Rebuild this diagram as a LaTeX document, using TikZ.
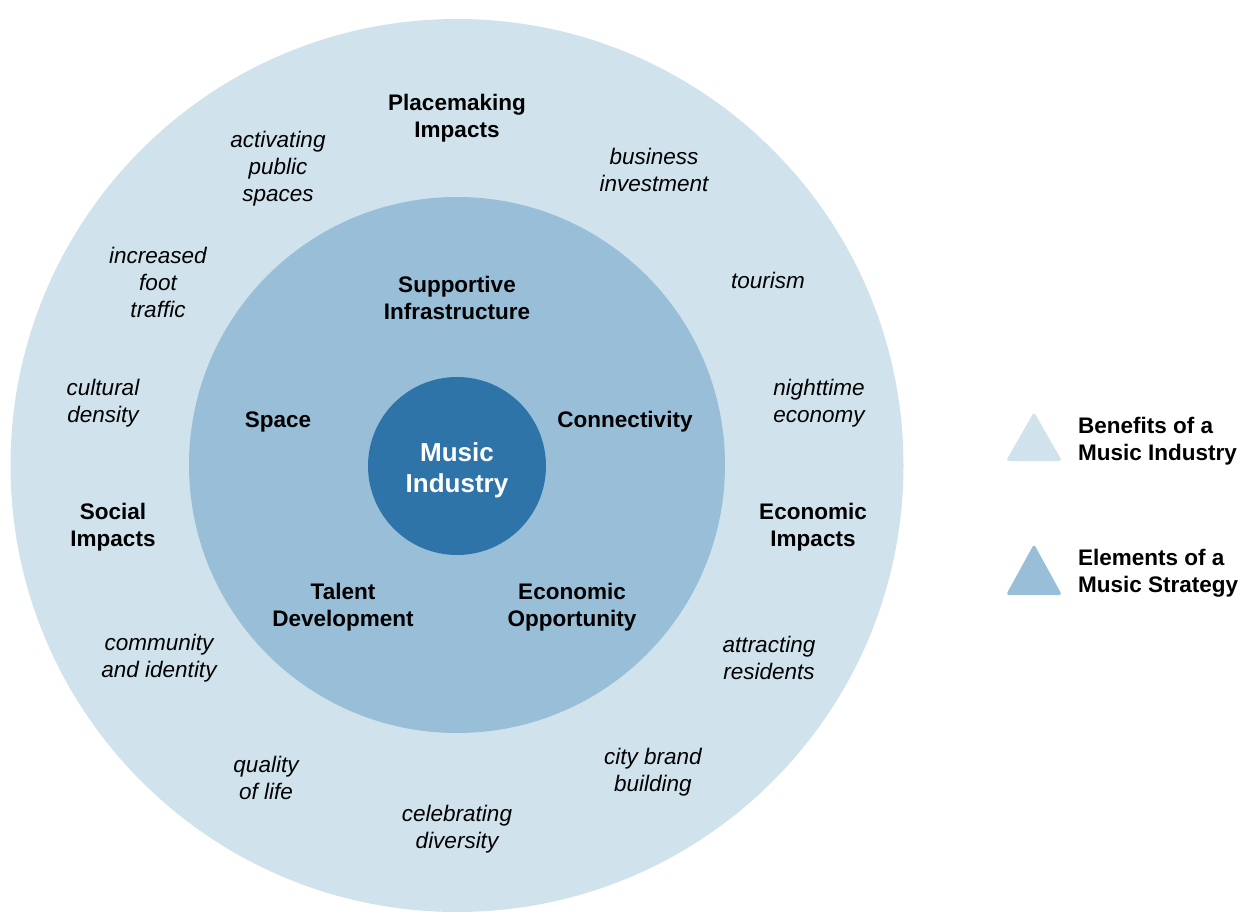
\documentclass[tikz,border=0pt]{standalone}
\usepackage{fontspec}
\setmainfont{Liberation Sans}
\definecolor{outerc}{HTML}{D0E2EC}
\definecolor{midc}{HTML}{98BFD7}
\definecolor{innerc}{HTML}{2E74A8}
\begin{document}
\begin{tikzpicture}[x=1pt,y=-1pt,
  lbl/.style={align=center,font=\fontsize{22.5}{27}\selectfont\bfseries,text=black,inner sep=0pt,yshift=-3pt},
  itl/.style={align=center,font=\fontsize{22.5}{27}\selectfont\itshape,text=black,inner sep=0pt,yshift=-3pt},
  leg/.style={align=left,anchor=west,font=\fontsize{22.5}{27}\selectfont\bfseries,inner sep=0pt,yshift=-3pt},
  tri/.style={rounded corners=3pt}]
\useasboundingbox (0,0) rectangle (1251,920);
\node[circle,fill=outerc,minimum size=893pt,inner sep=0pt] (outer) at (457,465.5) {};
\node[circle,fill=midc,minimum size=536pt,inner sep=0pt] (mid) at (457,465) {};
\node[circle,fill=innerc,minimum size=178pt,inner sep=0pt] (core) at (457,466) {};
\node[align=center,text=white,inner sep=0pt,font=\fontsize{26}{31}\selectfont\bfseries] (coretext) at (457,470) {Music\\Industry};
% middle ring
\node[lbl] (sup) at (457,295) {Supportive\\Infrastructure};
\node[lbl] (space) at (278,419) {Space};
\node[lbl] (conn) at (625,419) {Connectivity};
\node[lbl] (talent) at (343,604) {Talent\\Development};
\node[lbl] (econop) at (572,604) {Economic\\Opportunity};
% outer ring
\node[lbl] (place) at (457,115) {Placemaking\\Impacts};
\node[lbl] (social) at (113,524) {Social\\Impacts};
\node[lbl] (econimp) at (813,524) {Economic\\Impacts};
\node[itl] (act) at (278,166) {activating\\public\\spaces};
\node[itl] (bus) at (654,167) {business\\investment};
\node[itl] (foot) at (158,279) {increased\\foot\\traffic};
\node[itl] (tour) at (768,277) {tourism};
\node[itl] (cult) at (103,400) {cultural\\density};
\node[itl] (night) at (819,400) {nighttime\\economy};
\node[itl] (comm) at (159,655) {community\\and identity};
\node[itl] (attr) at (769,655) {attracting\\residents};
\node[itl] (qual) at (266,775) {quality\\of life};
\node[itl] (city) at (653,769) {city brand\\building};
\node[itl] (cele) at (457,826) {celebrating\\diversity};
% legend
\fill[outerc,tri] (1034,412) -- (1062,461) -- (1006,461) -- cycle;
\fill[midc,tri] (1034,544) -- (1062,595) -- (1006,595) -- cycle;
\node[leg] (legb) at (1078,438) {Benefits of a\\Music Industry};
\node[leg] (lege) at (1078,570) {Elements of a\\Music Strategy};
\end{tikzpicture}
\end{document}
